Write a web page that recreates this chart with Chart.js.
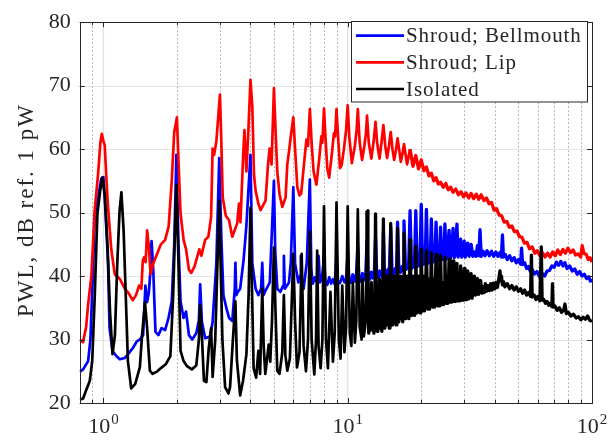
<!DOCTYPE html>
<html>
<head>
<meta charset="utf-8">
<script src="https://cdn.jsdelivr.net/npm/chart.js@4.4.0/dist/chart.umd.min.js"></script>
<style>
  html, body { margin: 0; padding: 0; background: #fff; }
  #wrap { width: 608px; height: 440px; position: relative; }
</style>
</head>
<body>
<div id="wrap"><canvas id="pwlChart" width="608" height="440"></canvas></div>
<script>
// Sound power level spectra, [frequency, PWL dB]
const bellmouthPoints = [
    [0.80,24.9],[0.826,25.3],[0.866,26.6],[0.885,30],[0.905,40],[0.922,49.8],[0.951,52.3],[0.981,55.4],[1.0,55.6],
    [1.013,52.3],[1.03,47],[1.045,42],[1.06,31.8],[1.09,28.2],[1.13,27.4],[1.167,26.9],[1.224,27.1],[1.263,27.7],
    [1.323,28.7],[1.37,29.7],[1.41,30],[1.454,30.7],[1.486,38.5],[1.51,35.9],[1.535,37.4],[1.559,41],[1.575,45.5],
    [1.60,41],[1.634,31.2],[1.68,30.7],[1.73,31.8],[1.79,31.5],[1.85,33.5],[1.905,36],[1.95,45],[1.99,59.1],
    [2.03,45],[2.07,36],[2.13,33.4],[2.18,34.4],[2.24,30.7],[2.31,30],[2.40,31],[2.46,33],[2.49,38.7],[2.53,32.8],
    [2.61,30.2],[2.74,30.5],[2.80,32.8],[2.90,42],[2.98,58.6],[3.04,46],[3.10,37],[3.2,34.7],[3.27,33.4],[3.37,32.9],
    [3.45,38],[3.47,42.1],[3.50,37],[3.55,37.5],[3.63,38],[3.75,42.6],[3.85,48],[4.0,59.1],[4.07,42],[4.2,38],
    [4.31,37],[4.42,38],[4.47,42.1],[4.52,37],[4.65,38],[4.8,39],[4.99,55],[5.05,44],[5.15,38],[5.3,37.5],
    [5.44,38.5],[5.48,43.2],[5.53,38],[5.75,39],[5.85,42.1],[5.99,54],[6.09,42],[6.28,39],[6.38,40],[6.43,43.2],
    [6.5,39],[6.6,38],[6.8,42.1],[7.0,55.2],[7.1,41],[7.2,38.8],[7.35,39.8],[7.5,38.9],[7.6,43.2],[7.7,39],
    [7.85,39.6],[8.0,43],[8.1,39.2],[8.25,38.6],[8.4,39.8],[8.55,38.8],[8.7,39.5],[8.85,38.7],[9.0,43],[9.1,39.3],
    [9.3,38.9],[9.5,40],[9.7,39],[9.85,39.6],[10.0,43.5],[10.1,39.5],[10.3,39],[10.5,40.2],[10.7,39.2],[10.85,39.8],
    [11.0,44.5],[11.1,39.6],[11.3,39.2],[11.5,40.4],[11.7,39.4],[11.85,40],[12.0,45.5],[12.12,39.8],[12.3,39.5],
    [12.5,40.6],[12.7,39.7],[12.85,40.2],[13.0,46],[13.15,40],[13.35,39.8],[13.55,40.8],[13.75,40],[13.9,40.5],
    [14.0,47],[14.15,40.2],[14.4,40.1],[14.6,41],[14.8,40.3],[15.0,47.7],[15.2,40.5],[15.45,40.4],[15.7,41.2],
    [15.85,40.6],[16.0,48.5],[16.2,40.8],[16.45,40.6],[16.7,41.5],[16.85,40.9],[17.0,48.7],[17.25,41],[17.5,41.7],
    [17.75,41.1],[18.0,50.3],[18.25,41.2],[18.5,42],[18.75,41.4],[19.0,50.3],[19.25,41.5],[19.5,42.2],[19.75,41.6],
    [20.0,51.3],[20.25,41.8],[20.5,42.5],[20.75,41.9],[21.0,50.5],[21.25,42],[21.5,42.7],[21.75,42.1],[22.0,49],
    [22.25,42.2],[22.5,42.9],[22.75,42.3],[23.0,48.5],[23.25,42.4],[23.5,43],[23.75,42.5],[24.0,47.7],[24.25,42.6],
    [24.5,43.2],[24.75,42.6],[25.0,48.2],[25.3,42.7],[25.6,43.4],[26.0,47.2],[26.3,42.8],[26.6,43.5],[27.0,47.5],
    [27.3,42.9],[27.6,43.6],[28.0,48.2],[28.3,43],[28.6,43.7],[29.0,45.8],[29.3,43],[29.6,43.7],[30.0,45.5],
    [30.3,43],[30.6,43.8],[31.0,45.2],[31.4,43.1],[31.7,43.8],[32.0,45],[32.5,43.1],[33,43.8],[33.5,43.1],[34,44.8],
    [34.4,43.2],[34.8,47.3],[35.2,43.1],[35.8,43.9],[36.5,43.2],[37.2,44],[38,43.2],[38.8,43.9],[39.6,43.1],
    [40.4,43.8],[41.2,43.1],[42,43.7],[42.6,43],[43,46.5],[43.4,43],[44.2,43.4],[45,42.6],[46,43.2],[47,42.4],
    [48,42.9],[49,42.1],[50,42.6],[51,41.9],[51.5,44.4],[52,41.8],[53,42.1],[54,41.2],[55,41.5],[56,40.7],[57,41],
    [58,40.3],[59.5,40.7],[61,39.9],[62.5,40.4],[64,40],[65.5,40.8],[67,40.9],[68.5,41.6],[70,41.4],[71.5,42.2],
    [73,41.7],[74.5,42.3],[76,41.6],[77.5,42.1],[79,41.2],[81,41.6],[83,40.8],[85,41.1],[87,40.3],[89,40.7],[91,40],
    [93,40.3],[95,39.6],[97,39.9],[98.5,39.2],[100,39.5]
];

const lipPoints = [
    [0.80,30.0],[0.826,29.6],[0.85,32.0],[0.866,35.5],[0.893,40.0],[0.922,50.5],[0.951,56.0],[0.972,61.0],[0.985,62.4],
    [1.0,61.3],[1.013,60.6],[1.03,55.0],[1.045,50.8],[1.078,44.1],[1.113,40.3],[1.15,39.8],[1.17,39.5],[1.224,38.0],
    [1.263,37.4],[1.32,36.2],[1.36,37.0],[1.40,38.5],[1.43,38.0],[1.45,42.4],[1.47,43.0],[1.49,42.2],[1.51,47.2],
    [1.535,44.7],[1.56,40.3],[1.60,42.0],[1.64,43.0],[1.72,45.0],[1.79,45.7],[1.85,47.8],[1.905,55.0],[1.95,62.7],
    [2.0,65.0],[2.03,58.0],[2.07,49.8],[2.13,45.7],[2.18,44.2],[2.24,41.0],[2.29,40.5],[2.36,41.5],[2.47,44.2],
    [2.52,43.2],[2.61,45.7],[2.69,46.2],[2.76,49.3],[2.80,60.1],[2.84,59.1],[2.90,61.2],[3.0,68.6],[3.04,61.0],
    [3.08,52.4],[3.17,49.5],[3.27,48.8],[3.37,46.2],[3.53,48.3],[3.59,51.4],[3.64,48.5],[3.73,58.6],[3.78,63.0],
    [3.85,56.5],[3.92,62.7],[4.0,70.9],[4.07,66.8],[4.135,56.0],[4.2,53.4],[4.31,51.4],[4.40,50.4],[4.61,51.9],
    [4.72,57.6],[4.79,60.1],[4.88,57.6],[4.99,69.6],[5.07,62.7],[5.15,56.5],[5.26,52.9],[5.40,50.9],[5.57,52.4],
    [5.66,57.6],[5.75,59.6],[5.88,62.7],[5.99,65.0],[6.09,60.1],[6.22,54.0],[6.35,52.7],[6.45,53.0],[6.62,57.5],
    [6.78,61.5],[6.88,60.5],[7.0,66.3],[7.12,61],[7.25,56.5],[7.45,54.4],[7.65,58.5],[7.8,62],[7.88,61],[8.0,66.4],
    [8.12,61.5],[8.25,57],[8.4,55.5],[8.6,59],[8.78,62.5],[8.88,62],[9.0,66.3],[9.15,61.5],[9.3,57],[9.45,57.5],
    [9.65,60],[9.85,63],[10.0,66.9],[10.15,62],[10.4,57.8],[10.7,60.5],[10.88,63],[11.0,66.3],[11.2,61],[11.45,58.3],
    [11.7,60.5],[11.88,62.5],[12.0,65.3],[12.2,61],[12.5,58.5],[12.75,61],[13.0,64.3],[13.2,61],[13.5,58.5],
    [13.75,61],[14.0,63.8],[14.25,60.5],[14.5,58.6],[14.75,60.5],[15.0,62.7],[15.25,60],[15.5,58.3],[15.75,59.8],
    [16.0,61.7],[16.3,59.5],[16.5,58],[16.75,59.2],[17.0,60.8],[17.5,57.6],[18.0,60.0],[18.5,57.3],[19.0,59.0],
    [19.5,56.9],[20.0,58.3],[20.5,56.6],[21.0,57.2],[21.5,55.8],[22.0,56.2],[22.5,55.0],[23.0,55.5],[23.5,54.5],
    [24.0,54.8],[24.6,54.0],[25.2,54.6],[25.8,53.6],[26.4,54.0],[27.0,53.2],[27.7,53.7],[28.4,52.8],[29.1,53.3],
    [29.8,52.5],[30.5,53.1],[31.3,52.3],[32.0,53.0],[32.8,52.2],[33.6,52.9],[34.4,52.1],[35.2,52.8],[36.1,51.9],
    [37.0,52.3],[37.9,51.4],[38.8,51.6],[39.7,50.4],[40.7,50.6],[41.7,49.6],[42.7,49.5],[43.7,48.5],[44.8,48.6],
    [45.9,47.7],[47.0,47.9],[48.1,47.0],[49.3,47.1],[50.5,46.2],[51.7,46.1],[52.9,45.2],[54.2,45.3],[55.5,44.3],
    [56.9,44.6],[58.3,43.6],[59.7,44.0],[61.2,43.2],[62.7,43.7],[64.2,43.0],[65.8,43.6],[67.4,43.0],[69.0,43.8],
    [70.7,43.2],[72.4,44.1],[74.2,43.4],[76.0,44.2],[77.8,43.6],[79.7,44.4],[81.7,43.7],[83.7,44.1],[85.7,43.3],
    [87.8,43.5],[89.9,43.0],[91.2,44.8],[92.6,43.6],[94.8,43.4],[96.5,42.6],[98.2,42.9],[100,42.2]
];

const isolatedPoints = [
    [0.80,20.5],[0.826,20.7],[0.85,22],[0.88,23.5],[0.90,26.6],[0.922,36.9],[0.945,49.8],[0.97,53.4],[0.99,55.5],
    [1.013,52.9],[1.04,44.7],[1.065,34.3],[1.09,27.7],[1.115,30.7],[1.14,42],[1.165,50.3],[1.185,53.2],[1.21,47.2],
    [1.235,36.9],[1.26,26.6],[1.30,22.3],[1.35,23],[1.41,25.6],[1.44,30.7],[1.48,35.9],[1.51,31.8],[1.55,25.1],
    [1.59,24.6],[1.65,24.9],[1.72,25.5],[1.80,26.1],[1.88,27.4],[1.93,36.9],[1.99,54.4],[2.03,42],[2.07,28.2],
    [2.13,26.6],[2.2,25.8],[2.3,25.3],[2.4,25.9],[2.46,30],[2.49,35.4],[2.53,30.7],[2.58,23.5],[2.64,23.3],
    [2.70,28.7],[2.76,31.8],[2.80,24.1],[2.87,30],[2.93,42],[2.98,51.9],[3.02,42],[3.07,30],[3.15,22.5],[3.25,21.5],
    [3.3,22.5],[3.38,29.2],[3.47,36],[3.52,26.7],[3.63,21.2],[3.73,23.5],[3.85,27.7],[3.93,37],[4.0,50.8],
    [4.05,39.6],[4.12,25.5],[4.22,24],[4.31,28.2],[4.38,24.6],[4.47,38],[4.53,29],[4.60,24.6],[4.75,29.2],
    [4.82,26.5],[4.90,33],[4.99,44.5],[5.06,35],[5.15,25.1],[5.26,24.6],[5.40,28],[5.48,37],[5.56,27.5],[5.66,25.1],
    [5.8,27],[5.99,43.5],[6.09,33],[6.2,25.6],[6.35,28],[6.48,43.5],[6.6,29],[6.75,25],[6.88,30],[7.0,47],[7.12,30],
    [7.3,24.5],[7.42,30],[7.5,44],[7.6,29],[7.75,25.5],[7.88,30],[8.0,51],[8.15,30],[8.3,25.5],[8.5,37.5],[8.7,26.5],
    [8.85,31],[9.0,51.6],[9.2,30],[9.35,27],[9.5,38.5],[9.7,28],[9.85,32],[10.0,51],[10.2,31],[10.35,29],[10.5,39],
    [10.7,29.5],[10.85,33],[11.0,50.5],[11.2,32],[11.4,30],[11.5,39.5],[11.65,30.5],[11.85,33],
    [12.0,50.3],[12.1,34],[12.2,31],[12.3,33.5],[12.4,31.5],[12.5,39],[12.6,31.5],[12.7,33.5],[12.8,31],[12.9,34],
    [13.0,49.8],[13.1,34.3],[13.2,31.3],[13.3,33.8],[13.4,31.8],[13.5,39.5],[13.6,31.8],[13.7,33.8],[13.8,31.3],[13.9,34.3],
    [14.0,49],[14.1,34.8],[14.2,31.8],[14.3,34.3],[14.4,32.3],[14.5,40],[14.6,32.3],[14.7,34.3],[14.8,31.8],[14.9,34.8],
    [15.0,48.3],[15.1,35.3],[15.2,32.3],[15.3,34.8],[15.4,32.8],[15.5,40],[15.6,32.8],[15.7,34.8],[15.8,32.3],[15.9,35.3],
    [16.0,47.5],[16.1,35.8],[16.2,32.8],[16.3,35.3],[16.4,33.3],[16.5,40],[16.6,33.3],[16.7,35.3],[16.8,32.8],[16.9,35.8],
    [17.0,46.8],[17.1,36.3],[17.2,33.3],[17.3,35.8],[17.4,33.8],[17.5,40],[17.6,33.8],[17.7,35.8],[17.8,33.3],[17.9,36.3],
    [18.0,45.7],[18.1,36.8],[18.2,33.8],[18.3,36.3],[18.4,34.3],[18.5,40],[18.6,34.3],[18.7,36.3],[18.8,33.8],[18.9,36.8],
    [19.0,44.7],[19.1,37.2],[19.2,34.2],[19.3,36.7],[19.4,34.7],[19.5,40],[19.6,34.7],[19.7,36.7],[19.8,34.2],[19.9,37.2],
    [20.0,44.2],[20.2,36],[20.35,34.5],[20.5,40],[20.65,34.5],[20.8,36],
    [21.0,44],[21.2,36.3],[21.35,34.8],[21.5,39.5],[21.65,34.8],[21.8,36.3],
    [22.0,43.7],[22.2,36.6],[22.35,35.1],[22.5,39.5],[22.65,35.1],[22.8,36.6],
    [23.0,43.4],[23.2,36.8],[23.35,35.3],[23.5,39.3],[23.65,35.3],[23.8,36.8],
    [24.0,43.2],[24.2,37],[24.35,35.5],[24.5,39],[24.65,35.5],[24.8,37],
    [25.0,43],[25.2,37.2],[25.35,35.7],[25.5,39],[25.65,35.7],[25.8,37.2],
    [26.0,42.7],[26.2,37.4],[26.35,35.9],[26.5,38.8],[26.65,35.9],[26.8,37.4],
    [27.0,42.4],[27.2,37.5],[27.35,36],[27.5,38.6],[27.65,36],[27.8,37.5],
    [28.0,42],[28.2,37.6],[28.35,36.1],[28.5,38.4],[28.65,36.1],[28.8,37.6],
    [29.0,41.6],[29.2,37.7],[29.35,36.2],[29.5,38.2],[29.65,36.2],[29.8,37.7],
    [30.0,41.2],[30.2,37.8],[30.35,36.3],[30.5,38],[30.65,36.3],[30.8,37.8],
    [31.0,40.8],[31.3,36.4],[31.6,37.9],[32.0,40.4],[32.3,36.5],[32.6,38],
    [33,40],[33.3,37],[33.6,37.8],[34,39.6],[34.3,37.1],[34.6,38],[35,39.3],[35.4,37.3],[35.8,38.3],[36.2,37.4],
    [36.6,38.8],[37,37.6],[37.5,38.5],[38,37.7],[38.5,38.8],[39,37.8],[39.5,38.9],[40,38],[40.5,39],[41,38.2],
    [41.5,39.4],[42,40.8],[42.3,39.3],[42.6,40],[43,38.6],[43.5,39.1],[44,38.3],[45,38.8],[46,38],[47,38.5],
    [48,37.8],[49,38.3],[50,37.6],[51,38],[52,37.3],[53,37.8],[54,37],[55,37.4],[56,36.8],[56.5,43.3],[56.9,36.7],
    [58,37],[59,36.3],[60,36.8],[61.2,36.1],[62,44.6],[62.5,36.2],[63.5,36.3],[64.5,35.7],[65.5,36],[66.5,35.4],
    [67.5,35.7],[68.5,35.2],[68.9,38.8],[69.3,35.1],[70.5,35.3],[72,34.6],[73.5,35],[75,34.3],[76.5,34.6],
    [77.5,35.6],[78.5,34.1],[80,34.3],[82,33.7],[84,34],[86,33.4],[88,33.6],[90,33.1],[92,33.5],[94,33.2],
    [96,33.7],[98,33],[100,32.9]
];

const seriesLabels = ['Shroud; Bellmouth', 'Shroud; Lip', 'Isolated'];
const seriesColors = ['#0000ff', '#ff0000', '#000000'];
// above these frequencies the traces get broadband and ragged, drawn a bit heavier
const raggedFrom = [10, 18, 12];

const yTicks = [20, 30, 40, 50, 60, 70, 80];
const majorFreqs = [1, 10, 100];
const minorFreqs = [0.9, 2, 3, 4, 5, 6, 7, 8, 9, 20, 30, 40, 50, 60, 70, 80, 90];
const xLabelExponents = ['0', '1', '2'];

const SERIF = "'Liberation Serif', 'Times New Roman', serif";
const AXIS_INK = '#262626';

function toXY(points) {
    return points.map(p => ({ x: p[0], y: p[1] }));
}

// grid lines under the data, axes box / ticks / labels / legend on top
const matlabAxes = {
    id: 'matlabAxes',
    beforeDatasetsDraw(chart) {
        const { ctx, chartArea: a, scales: { x, y } } = chart;
        ctx.save();
        ctx.lineWidth = 1;
        ctx.strokeStyle = '#e3e3e3';
        yTicks.forEach(v => {
            if (v === 20 || v === 80) return;
            const py = Math.round(y.getPixelForValue(v)) + 0.5;
            ctx.beginPath(); ctx.moveTo(a.left, py); ctx.lineTo(a.right, py); ctx.stroke();
        });
        ctx.lineWidth = 1.5;
        majorFreqs.forEach(v => {
            if (v >= 100) return;
            const px = x.getPixelForValue(v);
            ctx.beginPath(); ctx.moveTo(px, a.top); ctx.lineTo(px, a.bottom); ctx.stroke();
        });
        ctx.lineWidth = 1;
        ctx.strokeStyle = '#b4b4b4';
        ctx.setLineDash([2, 2]);
        minorFreqs.forEach(v => {
            const px = Math.round(x.getPixelForValue(v)) + 0.5;
            ctx.beginPath(); ctx.moveTo(px, a.top); ctx.lineTo(px, a.bottom); ctx.stroke();
        });
        ctx.restore();
    },
    afterDraw(chart) {
        const { ctx, chartArea: a, scales: { x, y } } = chart;
        ctx.save();

        // axes box
        ctx.strokeStyle = AXIS_INK;
        ctx.lineWidth = 1;
        ctx.strokeRect(Math.round(a.left) + 0.5, Math.round(a.top) + 0.5,
            Math.round(a.right - a.left), Math.round(a.bottom - a.top));

        // inward tick marks
        ctx.beginPath();
        yTicks.forEach(v => {
            const py = Math.round(y.getPixelForValue(v)) + 0.5;
            ctx.moveTo(a.left, py); ctx.lineTo(a.left + 5, py);
            ctx.moveTo(a.right, py); ctx.lineTo(a.right - 5, py);
        });
        majorFreqs.concat(minorFreqs).forEach(v => {
            const len = majorFreqs.includes(v) ? 5 : 3;
            const px = Math.round(x.getPixelForValue(v)) + 0.5;
            ctx.moveTo(px, a.bottom); ctx.lineTo(px, a.bottom - len);
            ctx.moveTo(px, a.top); ctx.lineTo(px, a.top + len);
        });
        ctx.stroke();

        // x tick labels as 10 with a raised exponent
        ctx.fillStyle = AXIS_INK;
        ctx.textBaseline = 'alphabetic';
        majorFreqs.forEach((v, i) => {
            const px = x.getPixelForValue(v);
            ctx.font = '22px ' + SERIF;
            const wBase = ctx.measureText('10').width;
            ctx.font = '15px ' + SERIF;
            const wExp = ctx.measureText(xLabelExponents[i]).width;
            const start = px - (wBase + wExp + 1) / 2;
            ctx.font = '22px ' + SERIF;
            ctx.textAlign = 'left';
            ctx.fillText('10', start, 433);
            ctx.font = '15px ' + SERIF;
            ctx.fillText(xLabelExponents[i], start + wBase + 1, 424);
        });

        // y axis title
        ctx.save();
        ctx.translate(27, 210);
        ctx.rotate(-Math.PI / 2);
        ctx.font = '23px ' + SERIF;
        ctx.letterSpacing = '2px';
        ctx.textAlign = 'center';
        ctx.textBaseline = 'middle';
        ctx.fillText('PWL, dB ref. 1 pW', 0, 0);
        ctx.restore();

        // legend box
        const box = { left: 351.5, top: 21.5, right: 587.5, bottom: 102 };
        ctx.fillStyle = '#ffffff';
        ctx.fillRect(box.left, box.top, box.right - box.left, box.bottom - box.top);
        ctx.strokeStyle = AXIS_INK;
        ctx.lineWidth = 1;
        ctx.strokeRect(box.left, box.top, box.right - box.left, box.bottom - box.top);
        const rowY = [35.7, 62.3, 89];
        ctx.font = '21px ' + SERIF;
        ctx.letterSpacing = '0.9px';
        ctx.textAlign = 'left';
        ctx.textBaseline = 'middle';
        seriesLabels.forEach((label, i) => {
            ctx.strokeStyle = seriesColors[i];
            ctx.lineWidth = 2.7;
            ctx.beginPath(); ctx.moveTo(356, rowY[i]); ctx.lineTo(404, rowY[i]); ctx.stroke();
            ctx.fillStyle = AXIS_INK;
            ctx.fillText(label, 406, rowY[i] + 1);
        });

        ctx.restore();
    }
};

const pointSets = [bellmouthPoints, lipPoints, isolatedPoints];

new Chart(document.getElementById('pwlChart'), {
    type: 'line',
    data: {
        datasets: pointSets.map((pts, i) => ({
            label: seriesLabels[i],
            data: toXY(pts),
            borderColor: seriesColors[i],
            borderWidth: 2.7,
            borderJoinStyle: 'round',
            pointRadius: 0,
            tension: 0,
            fill: false,
            order: 3 - i,
            segment: {
                borderWidth: c => c.p0.parsed.x >= raggedFrom[i] ? 3.3 : 2.7
            }
        }))
    },
    options: {
        responsive: false,
        animation: false,
        devicePixelRatio: 1,
        layout: { padding: { top: 14.5, right: 16, bottom: 0, left: 0 } },
        plugins: {
            legend: { display: false },
            tooltip: { enabled: false }
        },
        scales: {
            x: {
                type: 'logarithmic',
                min: 0.8,
                max: 100,
                grid: { display: false, drawTicks: false },
                border: { display: false },
                ticks: { display: false },
                afterFit: scale => { scale.height = 37; }
            },
            y: {
                min: 20,
                max: 80,
                grid: { display: false, drawTicks: false },
                border: { display: false },
                ticks: {
                    stepSize: 10,
                    padding: 9,
                    color: AXIS_INK,
                    font: { family: SERIF, size: 22 }
                },
                afterFit: scale => { scale.width = 79.7; }
            }
        }
    },
    plugins: [matlabAxes]
});
</script>
</body>
</html>
